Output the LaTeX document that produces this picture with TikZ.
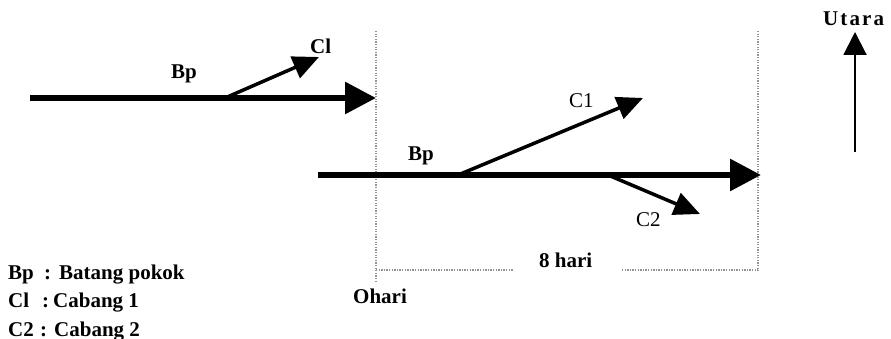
\documentclass[tikz,border=0pt]{standalone}
\usepackage{fontspec}
\setmainfont{Liberation Serif}
\usetikzlibrary{arrows.meta}
\begin{document}
\begin{tikzpicture}[x=1pt,y=-1pt,
  lbl/.style={font=\fontsize{21}{24}\selectfont\bfseries, anchor=base west, inner sep=0pt},
  lblr/.style={font=\fontsize{21}{24}\selectfont, anchor=base west, inner sep=0pt},
  mainarr/.style={line width=6pt, -{Triangle[length=31pt,width=31pt]}},
  brarr/.style={line width=3.5pt, -{Triangle[length=26pt,width=23pt]}},
  northarr/.style={line width=2pt, -{Triangle[length=23pt,width=23pt]}},
  guide/.style={draw=gray!85, line width=1.3pt, dash pattern=on 1.3pt off 1.3pt}]
\useasboundingbox (0,0) rectangle (891,339);
% guide lines
\coordinate (l0) at (376,31);
\coordinate (l1) at (376,281);
\coordinate (r0) at (758,31);
\coordinate (r1) at (758,271);
\coordinate (h0) at (376,270);
\coordinate (h1) at (513,270);
\coordinate (h2) at (622,270);
\coordinate (h3) at (758,270);
\draw[guide] (l0) -- (l1);
\draw[guide] (r0) -- (r1);
\draw[guide] (h0) -- (h1);
\draw[guide] (h2) -- (h3);
% top stem
\coordinate (a0) at (30,98);
\coordinate (a1) at (376,98);
\coordinate (ab) at (225,98);
\coordinate (ac) at (319,57);
\draw[mainarr] (a0) -- (a1);
\draw[brarr] (ab) -- (ac);
% lower stem
\coordinate (b0) at (318,175);
\coordinate (b1) at (761,175);
\coordinate (bb1) at (458,175);
\coordinate (bc1) at (643,98);
\coordinate (bb2) at (608,175);
\coordinate (bc2) at (700,214);
\draw[mainarr] (b0) -- (b1);
\draw[brarr] (bb1) -- (bc1);
\draw[brarr] (bb2) -- (bc2);
% north
\coordinate (n0) at (855,152);
\coordinate (n1) at (855,32);
\draw[northarr] (n0) -- (n1);
% labels
\node[lbl] (bp1) at (171,79) {Bp};
\node[lbl] (cl1) at (310,54) {Cl};
\node[lbl] (bp2) at (408,161) {Bp};
\node[lblr] (c1) at (569,108) {C1};
\node[lblr] (c2) at (636,226) {C2};
\node[lbl] (days) at (539,267) {8 hari};
\node[lbl] (zero) at (353,303) {Ohari};
\node[lbl, font=\fontsize{21}{24}\selectfont\bfseries\addfontfeatures{LetterSpace=10}] (north) at (823,26) {Utara};
% legend
\node[lbl] (lg1a) at (8,279) {Bp};
\node[lbl] (lg1b) at (44,279) {:};
\node[lbl] (lg1c) at (59,279) {Batang pokok};
\node[lbl] (lg2a) at (8,307) {Cl};
\node[lbl] (lg2b) at (42,307) {:};
\node[lbl] (lg2c) at (53,307) {Cabang 1};
\node[lbl] (lg3a) at (8,336) {C2};
\node[lbl] (lg3b) at (40,336) {:};
\node[lbl] (lg3c) at (54,336) {Cabang 2};
\end{tikzpicture}
\end{document}
